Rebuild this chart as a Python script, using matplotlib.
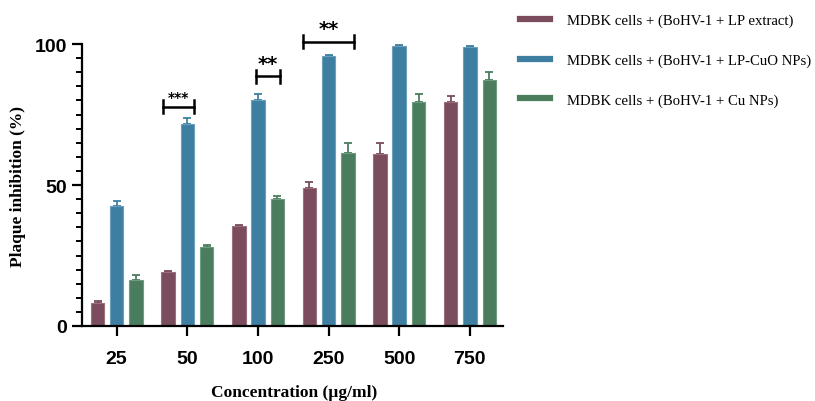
import matplotlib
matplotlib.use('Agg')
import matplotlib.pyplot as plt
from matplotlib.lines import Line2D
from matplotlib.ticker import FixedLocator
import numpy as np

concentrations = ['25', '50', '100', '250', '500', '750']
series_names = ['MDBK cells + (BoHV-1 + LP extract)',
                'MDBK cells + (BoHV-1 + LP-CuO NPs)',
                'MDBK cells + (BoHV-1 + Cu NPs)']
lp_extract = [8.1, 19.2, 35.5, 48.9, 61.1, 79.6]
lp_extract_err = [0.6, 0.2, 0.3, 2.1, 3.9, 2.0]
lp_cuo = [42.4, 71.8, 80.1, 95.7, 99.3, 99.1]
lp_cuo_err = [1.8, 2.1, 2.1, 0.3, 0.2, 0.2]
cu_nps = [16.2, 28.1, 45.1, 61.4, 79.3, 87.4]
cu_nps_err = [1.8, 0.6, 1.1, 3.6, 3.0, 2.6]

# significance brackets: (x start, x end, bracket height, label)
sig_x0 = [0.65, 1.98, 2.64]
sig_x1 = [1.09, 2.31, 3.36]
sig_y = [77.7, 88.5, 100.9]
sig_labels = ['***', '**', '**']

colors = ['#7a4c5d', '#3e7fa1', '#4a7d5e']
edge_colors = ['#9a6f7e', '#6a9fbd', '#6f9c80']

fig = plt.figure(figsize=(8.15, 4.02), dpi=100)
ax = fig.add_axes([0.1006, 0.1866, 0.5166, 0.7714])

x = np.arange(len(concentrations))
offsets = [-0.27, 0.0, 0.275]
width = 0.19
for vals, errs, off, c, ec in zip([lp_extract, lp_cuo, cu_nps],
                                  [lp_extract_err, lp_cuo_err, cu_nps_err],
                                  offsets, colors, edge_colors):
    ax.bar(x + off, vals, width, color=c, edgecolor=ec, linewidth=0.8, zorder=2)
    ax.errorbar(x + off, vals, yerr=[np.zeros(len(errs)), errs], fmt='none',
                ecolor=c, elinewidth=1.3, capsize=3, capthick=1.3, zorder=1)

for x0, x1, y, lab in zip(sig_x0, sig_x1, sig_y, sig_labels):
    ax.plot([x0, x1], [y, y], color='black', lw=1.8)
    ax.plot([x0, x0], [y - 2.3, y + 2.3], color='black', lw=1.8)
    ax.plot([x1, x1], [y - 2.3, y + 2.3], color='black', lw=1.8)
    fs = 10 if lab == '***' else 14
    ax.text((x0 + x1) / 2, y + 1.2, lab, ha='center', va='bottom',
            fontsize=fs, fontweight='bold', family='DejaVu Sans')

ax.set_xlim(-0.49, 5.47)
ax.set_ylim(0, 110)
ax.set_xticks(x)
ax.set_xticklabels(concentrations)
ax.set_yticks([0, 50, 100])
ax.yaxis.set_minor_locator(FixedLocator(np.arange(0, 101, 5)))
ax.spines['top'].set_visible(False)
ax.spines['right'].set_visible(False)
ax.spines['left'].set_bounds(0, 100)
for s in ['left', 'bottom']:
    ax.spines[s].set_linewidth(1.6)
ax.tick_params(axis='both', which='major', length=7, width=1.6,
               labelsize=14, pad=4)
ax.tick_params(axis='y', which='minor', length=4, width=1.4)
ax.tick_params(axis='x', pad=10)
for lab in ax.get_xticklabels() + ax.get_yticklabels():
    lab.set_fontweight('bold')
    lab.set_family('Liberation Sans')

ax.set_xlabel('Concentration (µg/ml)', fontsize=12.5, fontweight='bold',
              family='Liberation Serif', va='center')
ax.set_ylabel('Plaque inhibition (%)', fontsize=12.5, fontweight='bold',
              family='Liberation Serif', va='center')
ax.xaxis.set_label_coords(0.505, -0.213)
ax.yaxis.set_label_coords(-0.152, 0.452)

handles = [Line2D([0], [0], color=c, lw=4.5) for c in colors]
fig.legend(handles, series_names, loc='upper left',
           bbox_to_anchor=(0.622, 0.996), frameon=False,
           prop={'family': 'Liberation Serif', 'size': 10.6},
           handlelength=2.05, handletextpad=1.1, labelspacing=1.78)

fig.savefig('out.png', dpi=100)
